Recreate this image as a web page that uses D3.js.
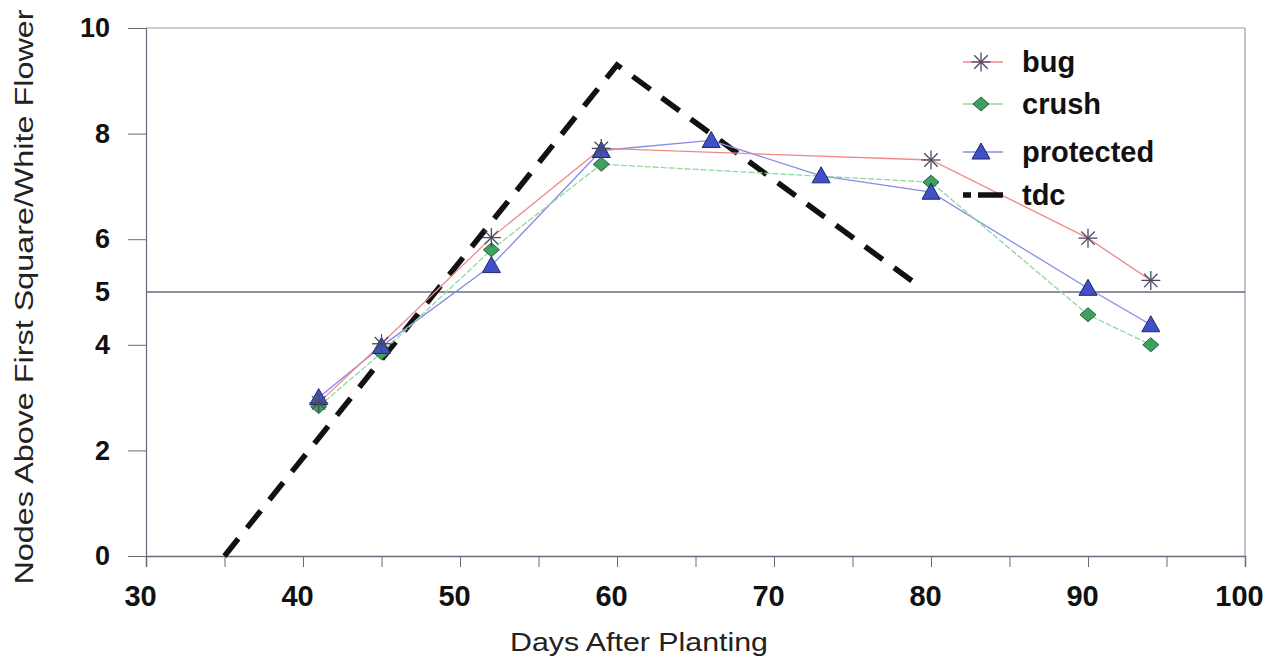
<!DOCTYPE html>
<html><head><meta charset="utf-8">
<script src="https://cdn.jsdelivr.net/npm/d3@7"></script>
<style>body{margin:0;background:#fff}svg{display:block}</style>
</head><body>
<svg id="c" width="1279" height="666"></svg>
<script>
const bugX = [41, 45, 52, 59, 80, 90, 94];
const bugY = [2.9, 4.02, 6.03, 7.72, 7.5, 6.02, 5.22];
const crushX = [41, 45, 52, 59, 80, 90, 94];
const crushY = [2.83, 3.85, 5.8, 7.42, 7.08, 4.57, 4.0];
const protX = [41, 45, 52, 59, 66, 73, 80, 90, 94];
const protY = [3.0, 3.97, 5.5, 7.68, 7.87, 7.2, 6.89, 5.07, 4.38];
const tdcX = [35, 60, 79.2];
const tdcY = [0, 9.3, 5.12];
const xTicks = [30, 40, 50, 60, 70, 80, 90, 100];
const yTicks = [0, 2, 4, 5, 6, 8, 10];
const legendNames = ["bug", "crush", "protected", "tdc"];

const svg = d3.select("#c");
const L = 146, R = 1245, T = 28, B = 556;
const x = d3.scaleLinear().domain([30, 100]).range([L, R]);
const y = d3.scaleLinear().domain([0, 10]).range([B, T]);
const axisCol = "#6a6a7a";
const FF = "Liberation Sans, Arial, sans-serif";

// frame
svg.append("line").attr("x1", L).attr("x2", R).attr("y1", T).attr("y2", T).attr("stroke", "#9a9aaa").attr("stroke-width", 1.2);
svg.append("line").attr("x1", R).attr("x2", R).attr("y1", T).attr("y2", B).attr("stroke", "#9a9aaa").attr("stroke-width", 1.2);
// ref line at 5
svg.append("line").attr("x1", L).attr("x2", R).attr("y1", y(5)).attr("y2", y(5)).attr("stroke", "#6a6a80").attr("stroke-width", 1.3);

// x axis
const xAx = svg.append("g").attr("transform", `translate(0,${B})`)
  .call(d3.axisBottom(x).tickValues(d3.range(30, 101, 5)).tickSize(11).tickFormat(d => xTicks.includes(d) ? d : ""));
xAx.select(".domain").attr("stroke", axisCol).attr("stroke-width", 1.5);
xAx.selectAll(".tick line").attr("stroke", axisCol);
xAx.selectAll("text").attr("font-family", FF).attr("font-weight", "bold")
  .attr("font-size", 29).attr("fill", "#111").attr("y", 50).attr("dy", 0).attr("dx", -6);

// y axis
const yAx = svg.append("g").attr("transform", `translate(${L},0)`)
  .call(d3.axisLeft(y).tickValues(yTicks).tickSize(18).tickPadding(18));
yAx.select(".domain").attr("stroke", axisCol).attr("stroke-width", 1.2);
yAx.selectAll(".tick line").attr("stroke", d => d === 5 ? "none" : axisCol);
yAx.selectAll("text").attr("font-family", FF).attr("font-weight", "bold")
  .attr("font-size", 27).attr("fill", "#111");

// titles
svg.append("text").attr("x", 639).attr("y", 651).attr("text-anchor", "middle")
  .attr("font-family", FF).attr("font-size", 25).attr("fill", "#222")
  .attr("textLength", 258).attr("lengthAdjust", "spacingAndGlyphs")
  .text("Days After Planting");
svg.append("text").attr("transform", `translate(33,297) rotate(-90)`).attr("text-anchor", "middle")
  .attr("font-family", FF).attr("font-size", 25).attr("fill", "#222")
  .attr("textLength", 575).attr("lengthAdjust", "spacingAndGlyphs")
  .text("Nodes Above First Square/White Flower");

const line = d3.line().x(d => x(d[0])).y(d => y(d[1]));
const zip = (a, b) => a.map((v, i) => [v, b[i]]);

// tdc
svg.append("path").datum(zip(tdcX, tdcY)).attr("d", line).attr("fill", "none")
  .attr("stroke", "#111").attr("stroke-width", 5.5).attr("stroke-dasharray", "22,14");

// series lines
svg.append("path").datum(zip(protX, protY)).attr("d", line).attr("fill", "none").attr("stroke", "#8a8ae8").attr("stroke-width", 1.3);
svg.append("path").datum(zip(crushX, crushY)).attr("d", line).attr("fill", "none").attr("stroke", "#8fd8a0").attr("stroke-width", 1.3).attr("stroke-dasharray", "6,2");
svg.append("path").datum(zip(bugX, bugY)).attr("d", line).attr("fill", "none").attr("stroke", "#f08a8a").attr("stroke-width", 1.3);

function star(g, cx, cy) {
  const r = 9.5;
  for (let k = 0; k < 4; k++) {
    const a = k * Math.PI / 4;
    g.append("line").attr("x1", cx - r * Math.cos(a)).attr("y1", cy - r * Math.sin(a))
      .attr("x2", cx + r * Math.cos(a)).attr("y2", cy + r * Math.sin(a))
      .attr("stroke", "#4a4a60").attr("stroke-width", 1.3);
  }
}
function diamond(g, cx, cy) {
  g.append("path").attr("d", `M${cx},${cy-7}L${cx+8},${cy}L${cx},${cy+7}L${cx-8},${cy}Z`)
    .attr("fill", "#3fa060").attr("stroke", "#2a5a3a").attr("stroke-width", 1);
}
function tri(g, cx, cy) {
  g.append("path").attr("d", `M${cx},${cy-9}L${cx+9},${cy+7}L${cx-9},${cy+7}Z`)
    .attr("fill", "#4050c8").attr("stroke", "#202860").attr("stroke-width", 1);
}
const mk = svg.append("g");
zip(crushX, crushY).forEach(d => diamond(mk, x(d[0]), y(d[1])));
zip(protX, protY).forEach(d => tri(mk, x(d[0]), y(d[1])));
zip(bugX, bugY).forEach(d => star(mk, x(d[0]), y(d[1])));

// legend
const lg = svg.append("g");
const ly = [62, 104, 152, 195];
const lx = 981;
lg.append("line").attr("x1", lx - 18).attr("x2", lx + 22).attr("y1", ly[0]).attr("y2", ly[0]).attr("stroke", "#f08a8a").attr("stroke-width", 1.3);
star(lg, lx, ly[0]);
lg.append("line").attr("x1", lx - 18).attr("x2", lx + 22).attr("y1", ly[1]).attr("y2", ly[1]).attr("stroke", "#8fd8a0").attr("stroke-width", 1.3);
diamond(lg, lx, ly[1]);
lg.append("line").attr("x1", lx - 18).attr("x2", lx + 22).attr("y1", ly[2]).attr("y2", ly[2]).attr("stroke", "#8a8ae8").attr("stroke-width", 1.3);
tri(lg, lx, ly[2]);
lg.append("line").attr("x1", lx - 18).attr("x2", lx + 22).attr("y1", ly[3]).attr("y2", ly[3]).attr("stroke", "#111").attr("stroke-width", 5.5).attr("stroke-dasharray", "8,7,22,0");
legendNames.forEach((n, i) => {
  lg.append("text").attr("x", 1022).attr("y", ly[i]).attr("dy", "0.35em")
    .attr("font-family", FF).attr("font-weight", "bold").attr("font-size", 29)
    .attr("fill", "#111").text(n);
});
</script>
</body></html>
